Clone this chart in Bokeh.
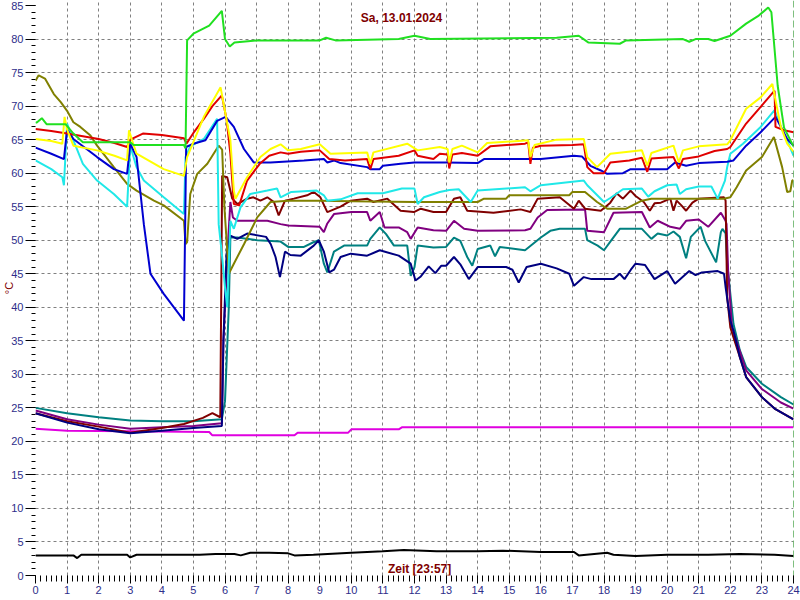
from bokeh.plotting import figure
from bokeh.models import Range1d, SingleIntervalTicker, FixedTicker, Span, Label
from bokeh.embed import file_html
from bokeh.resources import INLINE

# ---- data: (hour, °C) pairs per sensor ----
green = [(0, 67.5), (0.05, 67.6), (0.2, 68.2), (0.35, 67.3), (0.95, 67.3), (1.2, 65.9), (1.5, 64.6), (3.0, 64.6), (3.1, 64.2),
         (4.7, 64.2), (4.75, 63.7), (4.8, 79.8), (5.0, 80.8), (5.5, 82.0), (5.9, 84.2), (6.0, 80.0), (6.15, 78.9), (6.3, 79.5),
         (7.0, 79.8), (9.0, 79.8), (9.2, 80.2), (9.5, 79.8), (11.5, 80.0), (12.0, 80.5), (12.5, 80.0), (16.5, 80.2), (17.2, 80.5),
         (17.5, 79.5), (18.5, 79.3), (18.7, 79.8), (20.5, 80.0), (20.7, 79.6), (20.9, 80.0), (21.3, 80.0), (21.5, 79.7),
         (22.0, 80.5), (22.5, 82.3), (22.9, 83.5), (23.2, 84.7), (23.3, 84.0), (23.5, 73.0), (23.7, 66.8), (23.9, 64.9), (24.0, 64.0)]
red = [(0, 66.6), (0.5, 66.3), (1.0, 65.9), (1.5, 65.5), (2.0, 65.1), (2.5, 64.5), (2.9, 63.9), (3.0, 65.0), (3.4, 65.9),
       (4.0, 65.7), (4.7, 65.2), (4.78, 64.4), (5.0, 66.0), (5.33, 68.1), (5.6, 70.0), (5.9, 71.6), (6.05, 68.0), (6.17, 62.9),
       (6.28, 55.4), (6.45, 55.2), (6.7, 58.9), (7.1, 61.4), (7.4, 62.6), (7.76, 63.1), (8.0, 62.9), (8.4, 63.2), (9.0, 63.4),
       (9.3, 62.1), (9.8, 61.9), (10.5, 62.1), (10.6, 60.6), (10.7, 62.1), (11.5, 62.6), (12.0, 63.4), (12.1, 62.6), (12.6, 62.1),
       (12.8, 62.9), (13.05, 62.8), (13.1, 60.7), (13.2, 62.8), (13.5, 63.0), (14.0, 62.6), (14.4, 64.0), (15.5, 64.4),
       (15.6, 64.6), (15.67, 61.4), (15.75, 63.8), (16.0, 64.1), (17.0, 64.2), (17.36, 64.3), (17.47, 60.9), (17.67, 60.0),
       (18.0, 60.0), (18.2, 61.6), (18.8, 61.9), (19.2, 62.3), (19.37, 60.2), (19.5, 62.2), (20.2, 62.4), (20.37, 60.7),
       (20.5, 62.1), (21.0, 62.5), (21.5, 63.3), (21.9, 63.6), (22.0, 63.9), (22.5, 67.4), (22.96, 69.9), (23.4, 72.3),
       (23.43, 66.9), (23.7, 66.4), (24.0, 66.1)]
yellow = [(0, 65.1), (0.5, 64.8), (0.85, 64.4), (0.92, 68.4), (1.0, 66.5), (1.2, 64.1), (1.95, 63.4), (2.5, 62.6), (2.9, 61.9),
          (2.96, 66.4), (3.05, 65.0), (3.2, 62.9), (4.06, 60.6), (4.7, 59.6), (4.8, 62.4), (5.33, 68.4), (5.86, 72.8),
          (6.17, 64.9), (6.28, 57.4), (6.33, 56.2), (6.7, 59.4), (7.12, 62.4), (7.44, 63.6), (7.76, 64.3), (8.0, 63.4),
          (8.4, 63.6), (9.0, 64.3), (9.34, 62.9), (10.5, 63.1), (10.6, 61.4), (10.7, 63.1), (11.77, 64.4), (12.1, 63.4),
          (12.8, 63.9), (13.05, 63.6), (13.1, 61.6), (13.2, 63.6), (13.5, 64.1), (14.0, 63.1), (14.3, 64.5), (15.6, 64.9),
          (15.67, 62.4), (15.8, 64.2), (16.5, 65.0), (17.36, 65.1), (17.47, 62.4), (17.78, 60.9), (18.2, 62.9), (19.2, 63.4),
          (19.37, 61.1), (19.5, 63.0), (20.2, 64.1), (20.37, 61.6), (20.5, 63.4), (21.0, 64.0), (21.9, 64.3), (22.0, 64.9),
          (22.5, 69.6), (22.96, 71.3), (23.33, 73.3), (23.6, 66.9), (23.8, 64.4), (24.0, 63.2)]
blue = [(0, 63.8), (0.5, 62.9), (0.9, 62.1), (1.0, 66.5), (1.2, 65.1), (1.95, 62.4), (2.48, 60.6), (2.9, 59.9), (3.0, 64.4),
        (3.2, 62.4), (3.43, 52.4), (3.64, 45.0), (4.06, 42.0), (4.7, 38.0), (4.77, 63.9), (5.0, 64.4), (5.38, 64.9),
        (5.75, 67.8), (6.02, 68.4), (6.28, 66.9), (6.6, 63.6), (6.91, 61.6), (7.44, 61.6), (8.5, 61.9), (9.13, 62.1),
        (9.24, 61.6), (9.45, 61.9), (9.66, 61.5), (10.5, 60.9), (10.6, 60.6), (10.9, 60.6), (11.0, 61.1), (11.56, 61.4),
        (12.0, 61.6), (13.0, 61.6), (14.0, 61.5), (14.2, 62.1), (16.0, 62.1), (17.05, 62.6), (17.3, 62.5), (17.57, 61.1),
        (17.9, 60.4), (18.1, 59.9), (18.6, 60.0), (18.84, 60.6), (20.0, 60.6), (20.25, 61.6), (20.6, 61.1), (21.0, 61.5),
        (21.9, 61.7), (22.1, 61.9), (22.5, 64.1), (22.96, 66.1), (23.43, 68.4), (23.6, 66.9), (23.8, 65.1), (24.0, 64.1)]
cyan = [(0, 61.9), (0.5, 60.6), (0.85, 59.4), (0.9, 58.2), (1.0, 67.4), (1.2, 64.9), (1.5, 61.4), (1.95, 58.9), (2.48, 56.9),
        (2.9, 55.0), (3.0, 64.1), (3.2, 60.9), (3.43, 58.9), (4.06, 56.4), (4.7, 53.9), (4.75, 62.4), (4.9, 64.0), (5.33, 65.1),
        (5.75, 68.1), (5.8, 52.4), (5.9, 48.0), (6.0, 43.0), (6.07, 40.0), (6.17, 52.9), (6.28, 51.7),
        (6.49, 54.9), (6.8, 56.9), (7.34, 57.4), (7.65, 57.7), (7.76, 56.4), (8.1, 57.2), (8.9, 57.4), (9.13, 56.7),
        (9.24, 55.9), (9.66, 56.1), (10.2, 57.0), (11.0, 57.0), (11.6, 57.7), (12.0, 57.7), (12.1, 55.4), (12.3, 56.4),
        (12.8, 57.2), (13.1, 57.5), (13.4, 57.6), (13.78, 55.7), (14.0, 57.4), (15.5, 57.9), (15.67, 57.3), (16.0, 58.2),
        (17.36, 58.9), (17.47, 58.2), (18.0, 55.7), (18.2, 56.3), (18.6, 57.6), (19.2, 57.7), (19.4, 56.5), (19.6, 57.3),
        (20.0, 58.2), (20.3, 58.3), (20.4, 56.9), (20.6, 57.6), (21.0, 58.0), (21.4, 58.0), (21.6, 56.2), (21.83, 58.9),
        (21.9, 60.9), (22.0, 62.9), (22.4, 64.4), (22.96, 66.9), (23.4, 69.4), (23.6, 66.9), (23.8, 64.9), (24.0, 62.6)]
olive = [(0, 73.8), (0.1, 74.6), (0.3, 74.1), (0.58, 71.8), (0.8, 70.6), (1.0, 69.3), (1.2, 67.6), (1.42, 66.9), (1.74, 65.6),
         (1.95, 64.1), (2.48, 60.9), (2.9, 58.4), (3.2, 57.4), (3.75, 55.9), (4.06, 55.2), (4.7, 52.9), (4.75, 49.4),
         (4.8, 49.7), (4.9, 56.9), (5.12, 59.9), (5.44, 61.4), (5.8, 64.1), (5.91, 63.5), (5.98, 55.0), (6.12, 45.0),
         (6.28, 46.5), (6.6, 49.4), (7.02, 53.4), (7.44, 55.7), (8.0, 55.9), (9.0, 55.9), (10.0, 55.8), (12.0, 55.7),
         (13.0, 55.7), (14.0, 55.7), (14.2, 56.2), (14.9, 56.2), (15.0, 56.7), (16.9, 56.7), (17.0, 57.2), (17.4, 57.2),
         (17.78, 55.7), (18.1, 54.7), (18.7, 54.7), (19.2, 55.9), (19.5, 56.2), (21.8, 56.2), (22.0, 56.4), (22.2, 57.9),
         (22.5, 60.4), (23.0, 62.4), (23.38, 65.4), (23.64, 60.9), (23.8, 57.2), (23.9, 57.3), (23.96, 58.9), (24.0, 59.0)]
maroon = [(0, 24.2), (1.0, 23.0), (2.0, 22.2), (3.0, 21.3), (4.0, 22.0), (4.7, 22.6), (5.3, 23.5), (5.6, 24.2), (5.85, 23.6),
          (5.91, 59.6), (6.07, 59.4), (6.23, 56.2), (6.39, 55.4), (6.7, 56.2), (6.9, 56.4), (7.12, 55.9), (7.34, 56.4),
          (7.55, 55.7), (7.7, 53.7), (7.9, 55.9), (8.18, 56.2), (8.6, 56.7), (8.81, 57.2), (9.02, 56.4), (9.24, 54.2),
          (9.66, 55.0), (9.98, 55.9), (10.5, 56.2), (10.7, 55.7), (11.14, 56.2), (11.56, 54.4), (11.98, 54.2), (12.2, 54.7),
          (12.6, 54.2), (13.0, 54.2), (13.25, 56.2), (13.45, 56.4), (13.67, 54.4), (14.5, 54.1), (15.36, 54.6), (15.67, 54.2),
          (15.9, 56.2), (16.6, 56.4), (17.05, 54.7), (17.2, 55.9), (17.4, 54.7), (17.9, 54.4), (18.2, 55.6), (18.4, 57.0),
          (18.6, 56.2), (18.84, 57.4), (19.0, 56.6), (19.26, 55.7), (19.45, 54.4), (19.6, 55.5), (19.8, 55.6), (20.1, 56.2),
          (20.2, 54.4), (20.3, 55.9), (20.45, 55.2), (20.6, 54.4), (20.8, 55.6), (21.0, 56.2), (21.8, 56.4), (21.85, 55.9),
          (21.9, 41.5), (22.0, 37.0), (22.1, 35.5), (22.3, 32.6), (22.5, 29.6), (23.0, 26.6), (23.4, 24.9), (24.0, 23.3)]
purple = [(0, 24.6), (1.0, 23.3), (2.0, 22.5), (3.0, 21.9), (4.0, 22.1), (5.0, 22.3), (5.9, 22.7), (5.95, 35.0), (6.1, 50.0),
          (6.17, 55.7), (6.25, 53.4), (6.39, 52.9), (7.34, 52.9), (7.76, 52.4), (8.0, 52.2), (9.0, 52.0), (9.13, 51.2),
          (9.24, 52.5), (9.45, 53.9), (10.0, 54.2), (10.5, 54.2), (10.6, 52.9), (10.9, 54.2), (11.05, 51.9), (11.5, 51.9),
          (11.77, 51.2), (11.88, 50.2), (12.1, 51.9), (12.6, 51.5), (13.0, 51.4), (13.25, 52.9), (13.57, 51.7), (14.0, 51.4),
          (15.5, 51.5), (15.67, 51.7), (15.9, 53.4), (16.2, 54.5), (17.4, 54.6), (17.47, 51.4), (18.0, 51.2), (18.3, 54.1),
          (19.2, 54.2), (19.45, 51.9), (19.7, 52.9), (20.1, 52.0), (20.4, 51.7), (20.6, 52.9), (21.0, 53.1), (21.3, 52.0),
          (21.7, 54.1), (21.85, 52.9), (21.88, 52.4), (21.93, 45.5), (22.05, 37.0), (22.5, 30.6), (23.0, 27.8), (23.6, 25.8),
          (24.0, 24.9)]
teal = [(0, 25.0), (1.0, 24.2), (2.0, 23.6), (3.0, 23.1), (4.0, 23.0), (5.0, 23.0), (5.9, 23.3), (6.0, 26.0), (6.12, 40.0),
        (6.17, 50.4), (6.39, 50.4), (7.02, 50.0), (7.76, 49.8), (8.0, 49.0), (8.5, 49.0), (8.8, 49.7), (8.97, 50.0),
        (9.13, 46.5), (9.24, 45.2), (9.45, 48.3), (9.77, 49.2), (10.5, 49.2), (10.6, 50.2), (10.9, 51.9), (11.1, 50.9),
        (11.35, 49.2), (11.77, 49.2), (11.88, 44.7), (12.0, 46.0), (12.1, 49.2), (12.6, 48.9), (13.0, 49.0), (13.25, 50.4),
        (13.45, 49.9), (13.67, 47.5), (13.83, 46.2), (14.0, 48.7), (14.4, 49.2), (14.55, 47.6), (14.7, 49.0), (15.5, 48.5),
        (16.0, 50.4), (16.3, 51.4), (16.6, 51.7), (17.4, 51.7), (17.47, 50.0), (17.8, 49.2), (18.0, 48.5), (18.2, 49.8),
        (18.5, 51.7), (19.2, 51.7), (19.5, 50.2), (19.7, 51.0), (20.0, 50.7), (20.2, 51.3), (20.4, 50.5), (20.6, 47.3),
        (20.75, 50.5), (21.06, 52.0), (21.2, 49.9), (21.55, 46.7), (21.7, 51.2), (21.75, 51.7), (21.85, 51.0), (21.9, 46.5),
        (22.1, 37.5), (22.3, 33.6), (22.5, 31.1), (23.0, 28.6), (23.6, 26.6), (24.0, 25.5)]
navy = [(0, 24.2), (1.0, 22.8), (2.0, 21.8), (3.0, 21.2), (4.0, 21.6), (5.0, 22.0), (5.9, 22.3), (5.95, 35.0), (6.05, 48.0),
        (6.17, 50.7), (6.39, 50.2), (6.7, 51.0), (7.3, 50.5), (7.45, 49.4), (7.6, 47.5), (7.74, 44.5), (7.9, 48.3), (8.07, 47.8),
        (8.4, 47.7), (8.81, 49.2), (8.97, 50.0), (9.13, 48.3), (9.3, 45.2), (9.45, 45.6), (9.66, 47.5), (9.98, 48.0),
        (10.5, 47.7), (10.9, 48.5), (11.5, 47.7), (11.88, 46.5), (12.03, 44.0), (12.2, 44.6), (12.45, 46.1), (12.66, 45.1),
        (12.85, 46.2), (13.0, 46.2), (13.25, 47.5), (13.45, 46.4), (13.72, 44.2), (14.0, 46.0), (14.9, 46.0), (15.1, 45.6),
        (15.3, 43.7), (15.55, 46.0), (16.0, 46.5), (16.5, 45.8), (16.9, 45.0), (17.05, 43.2), (17.36, 44.5), (17.6, 44.2),
        (18.3, 44.2), (18.5, 45.0), (18.65, 44.2), (18.85, 45.6), (19.0, 46.5), (19.3, 46.3), (19.6, 44.2), (20.0, 45.4),
        (20.25, 43.5), (20.7, 45.4), (20.9, 44.8), (21.1, 45.2), (21.6, 45.4), (21.8, 45.0), (21.85, 43.0), (22.0, 38.0),
        (22.1, 36.5), (22.3, 32.6), (22.5, 29.6), (23.0, 26.6), (23.4, 24.9), (24.0, 23.3)]
magenta = [(0, 21.9), (1.0, 21.6), (3.0, 21.5), (5.5, 21.4), (5.6, 20.9), (8.2, 20.9), (8.3, 21.3), (9.9, 21.3), (10.0, 21.8),
           (11.5, 21.8), (11.6, 22.1), (24.0, 22.1)]
black = [(0, 3.0), (1.2, 3.0), (1.32, 2.6), (1.45, 3.1), (2.9, 3.1), (3.0, 2.7), (3.2, 3.1), (5.2, 3.1), (5.7, 3.2), (6.3, 3.2),
         (6.5, 3.0), (6.8, 3.4), (7.4, 3.4), (8.0, 3.3), (8.2, 3.0), (8.8, 3.1), (10.0, 3.4), (11.0, 3.6), (11.66, 3.8),
         (12.7, 3.6), (14.0, 3.6), (14.8, 3.7), (16.0, 3.5), (17.05, 3.5), (17.2, 3.0), (18.1, 3.4), (18.3, 3.1), (19.0, 2.9),
         (20.0, 3.1), (21.3, 3.1), (22.3, 3.2), (23.4, 3.1), (24.0, 2.9)]

series = [
    (black, "#000000"), (magenta, "#E000E0"), (teal, "#008080"), (purple, "#800080"), (maroon, "#800000"),
    (navy, "#000080"), (olive, "#808000"), (cyan, "#20E8E8"), (blue, "#0000D0"), (red, "#E00000"),
    (yellow, "#FFFF00"), (green, "#20E020"),
]

title_text = "Sa, 13.01.2024"
xlabel_text = "Zeit [23:57]"
ylabel_text = "°C"

FONT = "Liberation Sans"
TICK_COLOR = "#2E2E8A"
TXT_RED = "#800000"

p = figure(width=800, height=600, x_range=Range1d(0, 24), y_range=Range1d(0, 85.75),
           output_backend="svg", toolbar_location=None,
           min_border_left=35, min_border_right=7, min_border_top=0, min_border_bottom=25,
           background_fill_color="white", border_fill_color="white", outline_line_color=None)

for data, col in series:
    xs = [d[0] for d in data]
    ys = [d[1] for d in data]
    p.line(xs, ys, line_color=col, line_width=2)

# axes
p.xaxis.ticker = SingleIntervalTicker(interval=1, num_minor_ticks=6)
p.yaxis.ticker = SingleIntervalTicker(interval=5, num_minor_ticks=5)
for ax in (p.xaxis[0], p.yaxis[0]):
    ax.axis_line_color = None
    ax.major_tick_line_color = "black"
    ax.minor_tick_line_color = "black"
    ax.major_tick_in = 0
    ax.minor_tick_in = 0
    ax.major_label_text_font = FONT
    ax.major_label_text_font_size = "11px"
    ax.major_label_text_color = TICK_COLOR
p.xaxis.major_tick_out = 8
p.xaxis.minor_tick_out = 6
p.xaxis.major_label_standoff = 2
p.yaxis.major_tick_out = 10
p.yaxis.minor_tick_out = 4
p.yaxis.major_label_standoff = 2
p.yaxis.axis_label = ylabel_text
p.yaxis.axis_label_standoff = -7
p.yaxis.axis_label_text_font = FONT
p.yaxis.axis_label_text_font_size = "11px"
p.yaxis.axis_label_text_font_style = "normal"
p.yaxis.axis_label_text_color = TXT_RED

# grid
p.xgrid.ticker = FixedTicker(ticks=list(range(1, 24)))
p.ygrid.ticker = FixedTicker(ticks=list(range(5, 85, 5)))
for g in (p.xgrid[0], p.ygrid[0]):
    g.grid_line_color = "#808080"
    g.grid_line_dash = "3 3"
    g.grid_line_width = 1

p.add_layout(Span(location=24, dimension="height", line_color="#008000", line_dash="7 3", line_width=1))

p.add_layout(Label(x=11.59, y=83.2, text=title_text, text_font=FONT, text_font_size="12px",
                   text_font_style="bold", text_color=TXT_RED, text_align="center", text_baseline="middle"))
p.add_layout(Label(x=12.16, y=0.9, text=xlabel_text, text_font=FONT, text_font_size="12px",
                   text_font_style="bold", text_color=TXT_RED, text_align="center", text_baseline="middle"))

open("out.html", "w").write(file_html(p, INLINE))
